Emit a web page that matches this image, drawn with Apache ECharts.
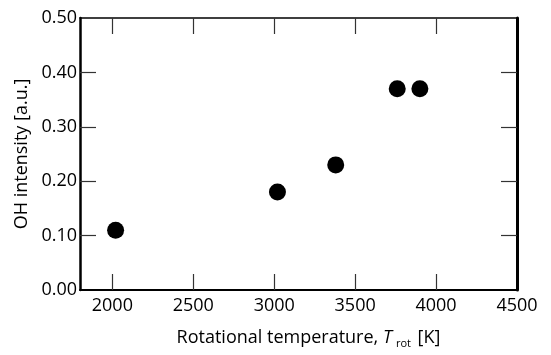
<!DOCTYPE html>
<html><head><meta charset="utf-8">
<script src="https://cdn.jsdelivr.net/npm/echarts@6/dist/echarts.min.js"></script>
<style>html,body{margin:0;padding:0;background:#fff}#c{width:551px;height:355px}</style>
</head><body><div id="c"></div>
<script>
const temps = [2020, 3020, 3380, 3760, 3900];
const ohIntensity = [0.11, 0.18, 0.23, 0.37, 0.37];
const xTickLabels = [2000, 2500, 3000, 3500, 4000, 4500];
const xTicks = [2000, 2500, 3000, 3500, 4000];
const yTicks = [0.1, 0.2, 0.3, 0.4];

const font = '"Open Sans", sans-serif';
const tickStyle = () => ({show: true, inside: true, length: 16, lineStyle: {color: '#333', width: 1.2}});
const chart = echarts.init(document.getElementById('c'));
chart.setOption({
  animation: false,
  grid: {left: 80, right: 34, top: 18, bottom: 65},
  xAxis: [{
    type: 'value', min: 1800, max: 4500, position: 'bottom',
    splitLine: {show: false},
    axisLine: {show: true, onZero: false, lineStyle: {color: '#000', width: 2}},
    axisTick: Object.assign(tickStyle(), {customValues: xTicks}),
    axisLabel: {customValues: xTickLabels, color: '#000', fontFamily: font, fontSize: 18, margin: 7, formatter: v => String(v)},
    name: '{n|Rotational temperature, }{i|T}{s|rot}{n| [K]}',
    nameLocation: 'middle', nameGap: 36,
    nameTextStyle: {
      padding: [0, 0, 0, 20],
      rich: {
        n: {fontFamily: font, fontSize: 18, color: '#000'},
        i: {fontFamily: font, fontSize: 18, fontStyle: 'italic', color: '#000', padding: [0, 4, 0, 0]},
        s: {fontFamily: font, fontSize: 11, color: '#000', verticalAlign: 'bottom', padding: [12, 2, 0, 0]}
      }
    }
  }, {
    type: 'value', min: 1800, max: 4500, position: 'top',
    splitLine: {show: false},
    axisLine: {show: true, onZero: false, lineStyle: {color: '#000', width: 1.5}},
    axisTick: Object.assign(tickStyle(), {customValues: xTicks}),
    axisLabel: {show: false}
  }],
  yAxis: [{
    type: 'value', min: 0, max: 0.5, interval: 0.1, position: 'left',
    splitLine: {show: false},
    axisLine: {show: true, onZero: false, lineStyle: {color: '#000', width: 2.5}},
    axisTick: Object.assign(tickStyle(), {customValues: yTicks}),
    axisLabel: {color: '#000', fontFamily: font, fontSize: 18, margin: 3, formatter: v => v.toFixed(2)},
    name: 'OH intensity [a.u.]', nameLocation: 'middle', nameGap: 44,
    nameTextStyle: {fontFamily: font, fontSize: 18, color: '#000'}
  }, {
    type: 'value', min: 0, max: 0.5, interval: 0.1, position: 'right',
    splitLine: {show: false},
    axisLine: {show: true, onZero: false, lineStyle: {color: '#000', width: 3}},
    axisTick: Object.assign(tickStyle(), {customValues: yTicks}),
    axisLabel: {show: false}
  }],
  series: [{
    type: 'scatter', xAxisIndex: 0, yAxisIndex: 0,
    symbolSize: 17, itemStyle: {color: '#000', opacity: 1},
    data: temps.map((t, i) => [t, ohIntensity[i]])
  }]
});
</script></body></html>
